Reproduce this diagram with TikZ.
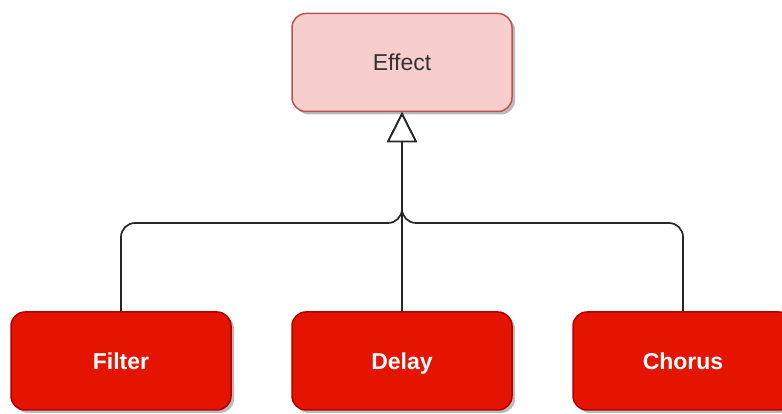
\documentclass[tikz,border=0pt]{standalone}
\usepackage{fontspec}
\setmainfont{Liberation Sans}
\usetikzlibrary{arrows.meta}
\definecolor{effFill}{HTML}{F8CECC}
\definecolor{effLine}{HTML}{B85450}
\definecolor{redFill}{HTML}{E51400}
\definecolor{redLine}{HTML}{B20000}
\definecolor{shade}{HTML}{BBBBBB}
\tikzset{
  x=1pt, y=1pt,
  box/.style={rectangle, rounded corners=14pt, minimum width=220pt, minimum height=98pt, inner sep=0pt, text height=16.5pt, text depth=0pt, line width=1.5pt, font=\fontsize{23}{26}\selectfont},
  shadowed/.style={preaction={fill=shade, transform canvas={xshift=3pt, yshift=-3pt}}},
  parentbox/.style={box, shadowed, fill=effFill, draw=effLine, text=black!80},
  childbox/.style={box, shadowed, fill=redFill, draw=redLine, text=white, font=\fontsize{23}{26}\selectfont\bfseries},
  conn/.style={draw=black!85, line width=1.7pt, rounded corners=14pt, -{Triangle[open, length=30pt, width=30pt, fill=white]}}
}
\begin{document}
\begin{tikzpicture}
\useasboundingbox (0,0) rectangle (782,414);
\node[parentbox] (effect) at (402,351.5) {Effect};
\node[childbox] (filter) at (121,53) {Filter};
\node[childbox] (delay) at (402,53) {Delay};
\node[childbox] (chorus) at (683,53) {Chorus};
\coordinate (hub) at (402,191);
\draw[conn] (filter.north) |- (hub) -- (effect.south);
\draw[conn] (chorus.north) |- (hub) -- (effect.south);
\draw[conn] (delay.north) -- (effect.south);
\end{tikzpicture}
\end{document}
